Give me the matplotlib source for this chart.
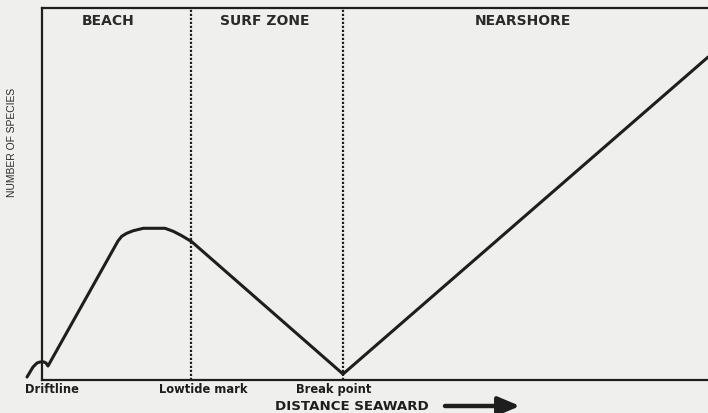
import matplotlib
matplotlib.use("Agg")
import matplotlib.pyplot as plt

# Data (distance seaward 0-100, number of species 0-100, arbitrary units)
distance = [-2.25, -1.8, -1.35, -0.75, -0.3, 0.3, 0.6, 0.9, 11.41, 11.97, 12.72,
            13.71, 15.21, 18.47, 19.71, 20.98, 22.48, 45.2, 100.0]
species = [0.8, 2.15, 3.5, 4.57, 4.84, 4.84, 4.57, 3.76, 37.37, 38.63, 39.44,
           40.13, 40.78, 40.78, 39.97, 38.79, 37.18, 1.6, 86.8]

zone_bounds = [22.4, 45.2]
zone_names = ["BEACH", "SURF ZONE", "NEARSHORE"]
zone_label_x = [9.9, 33.5, 72.2]
mark_names = ["Driftline", "Lowtide mark", "Break point"]
mark_label_x = [1.5, 24.2, 43.8]

bg = "#efefed"
ink = "#1e1e1e"

fig = plt.figure(figsize=(7.08, 4.14), dpi=100, facecolor=bg)
ax = fig.add_axes([42/708, 33/414, 1 - 42/708, (381-9)/414])
ax.set_facecolor(bg)
ax.set_xlim(0, 100)
ax.set_ylim(0, 100)

ax.plot(distance, species, color=ink, lw=2.2, clip_on=False,
        solid_joinstyle="round", solid_capstyle="round")

for xb in zone_bounds:
    ax.axvline(xb, color=ink, lw=1.6, linestyle=(0, (1, 0.8)))

for s in ["left", "top", "bottom"]:
    ax.spines[s].set_linewidth(1.6)
    ax.spines[s].set_color(ink)
ax.spines["right"].set_visible(False)
ax.set_xticks([])
ax.set_yticks([])

for name, xl in zip(zone_names, zone_label_x):
    ax.text(xl, 96.8, name, ha="center", va="center", fontsize=10,
            fontweight="bold", family="DejaVu Sans", color="#2a2a2a")

for name, xl in zip(mark_names, mark_label_x):
    ax.text(xl, -2.4, name, ha="center", va="center", fontsize=8.3,
            fontweight="bold", family="DejaVu Sans", color=ink, clip_on=False)

fig.text(352/708, 1 - 407/414, "DISTANCE SEAWARD", ha="center", va="center",
         fontsize=9.6, fontweight="bold", family="DejaVu Sans", color=ink)
fig.text(12/708, 1 - 142/414, "NUMBER OF SPECIES", ha="center", va="center",
         rotation=90, fontsize=7.4, family="Liberation Sans", color="#2a2a2a")

ax.annotate("", xy=(520/708, 1 - 407/414), xytext=(445/708, 1 - 407/414),
            xycoords="figure fraction", textcoords="figure fraction",
            arrowprops=dict(arrowstyle="-|>,head_length=1.3,head_width=0.55",
                            lw=3.2, color=ink, shrinkA=0, shrinkB=0))

fig.savefig("out.png", dpi=100, facecolor=bg)
